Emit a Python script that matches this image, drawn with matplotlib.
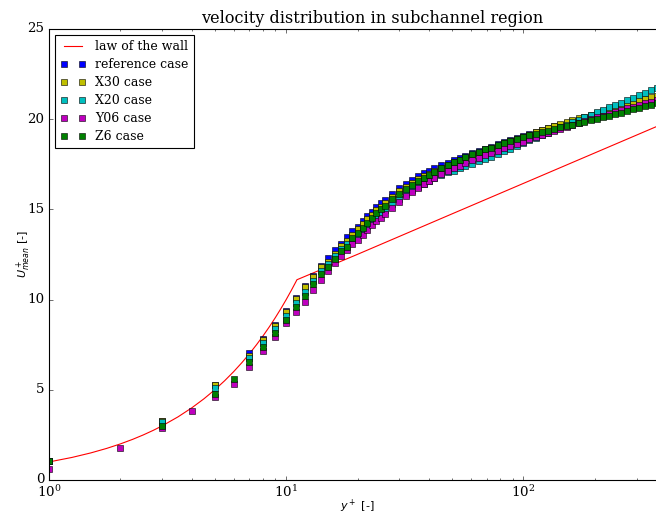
import numpy as np
import matplotlib
matplotlib.use("Agg")
import matplotlib.pyplot as plt

plt.style.use("classic")
plt.rcParams["font.family"] = "serif"
plt.rcParams["font.serif"] = ["DejaVu Serif"]
plt.rcParams["mathtext.fontset"] = "dejavusans"

nan = np.nan

# law of the wall
lw_yplus = [1, 1.25, 1.5, 1.75, 2, 2.25, 2.5, 2.75, 3, 3.5, 4, 4.5, 5, 5.5, 6, 6.5,
            7, 7.5, 8, 8.5, 9, 9.5, 10, 10.5, 11, 11.1, 20, 50, 100, 200, 400, 530]
lw_u = [1, 1.25, 1.5, 1.75, 2, 2.25, 2.5, 2.75, 3, 3.5, 4, 4.5, 5, 5.5, 6, 6.5,
        7, 7.5, 8, 8.5, 9, 9.5, 10, 10.5, 11, 11.1, 12.51, 14.75, 16.44, 18.13, 19.82, 20.5]

yplus = [1, 2, 3, 4, 5, 6, 7, 8, 9, 10, 11, 12, 13, 14, 15, 16, 17, 18, 19, 20,
         21, 22, 23, 24, 25, 26, 28, 30, 32, 34, 36, 38, 40, 42, 45, 48, 51, 54,
         57, 61, 65, 69, 73, 78, 83, 88, 94, 100, 106, 113, 120, 127, 135, 143,
         152, 161, 171, 181, 192, 204, 216, 229, 243, 258, 274, 290, 307, 325,
         345, 365]

u_ref = [1.07, nan, 3.25, nan, 5.27, nan, 7.02, 7.8, 8.6, 9.38, 10.08, 10.73, 11.29,
         11.84, 12.3, 12.75, 13.1, 13.45, 13.8, 14.04, 14.37, 14.63, 14.87, 15.12,
         15.34, 15.52, 15.87, 16.17, 16.43, 16.65, 16.84, 17.0, 17.14, 17.27, 17.44,
         17.59, 17.73, 17.86, 17.97, 18.12, 18.25, 18.37, 18.48, 18.61, 18.73, 18.84,
         18.96, 19.07, 19.18, 19.29, 19.39, 19.49, 19.6, 19.69, 19.79, 19.88, 19.98,
         20.07, 20.16, 20.25, 20.34, 20.42, 20.51, 20.6, 20.68, 20.76, 20.84, 20.92,
         21.0, 21.08]

u_x30 = [1.07, nan, 3.25, nan, 5.27, nan, 6.87, 7.76, 8.55, 9.33, 10.03, 10.68, 11.24,
         11.79, 12.08, 12.55, 12.99, 13.25, 13.6, 13.9, 14.2, 14.45, 14.7, 14.95,
         15.15, 15.35, 15.7, 16.0, 16.26, 16.48, 16.67, 16.83, 16.98, 17.11, 17.29,
         17.45, 17.6, 17.73, 17.85, 18.0, 18.14, 18.27, 18.39, 18.53, 18.66, 18.78,
         18.91, 19.03, 19.15, 19.27, 19.38, 19.49, 19.61, 19.72, 19.83, 19.93, 20.04,
         20.14, 20.24, 20.35, 20.45, 20.55, 20.65, 20.75, 20.85, 20.95, 21.04, 21.13,
         21.22, 21.3]

u_x20 = [1.07, nan, 3.2, nan, 5.12, nan, 6.74, 7.58, 8.35, 9.11, 9.81, 10.44, 11.05,
         11.6, 11.95, 12.4, 12.8, 13.1, 13.3, 13.6, 13.85, 14.1, 14.35, 14.55,
         14.75, 14.95, 15.3, 15.6, 15.85, 16.07, 16.26, 16.43, 16.58, 16.72, 16.9,
         17.06, 17.15, 17.27, 17.38, 17.52, 17.66, 17.8, 17.93, 18.08, 18.22, 18.36,
         18.52, 18.67, 18.83, 18.98, 19.12, 19.26, 19.4, 19.54, 19.68, 19.82, 19.96,
         20.1, 20.24, 20.38, 20.52, 20.65, 20.78, 20.92, 21.06, 21.19, 21.32, 21.46,
         21.6, 21.75]

u_y06 = [0.61, 1.75, 2.86, 3.82, 4.6, 5.32, 6.26, 7.13, 7.91, 8.68, 9.31, 9.87, 10.51,
         11.09, 11.6, 12.03, 12.4, 12.73, 13.08, 13.3, 13.58, 13.86, 14.12, 14.34,
         14.55, 14.75, 15.1, 15.43, 15.72, 15.98, 16.2, 16.4, 16.58, 16.74, 16.95,
         17.13, 17.29, 17.43, 17.56, 17.72, 17.86, 17.99, 18.11, 18.25, 18.38, 18.5,
         18.63, 18.76, 18.88, 19.0, 19.12, 19.23, 19.35, 19.46, 19.57, 19.68, 19.79,
         19.89, 19.99, 20.1, 20.2, 20.3, 20.4, 20.5, 20.6, 20.7, 20.79, 20.88,
         20.97, 21.05]

u_z6 = [1.07, nan, 3.0, nan, 4.75, 5.58, 6.56, 7.39, 8.13, 8.87, 9.57, 10.22, 10.86,
        11.4, 11.82, 12.27, 12.71, 12.93, 13.4, 13.67, 13.95, 14.23, 14.5, 14.78,
        15.0, 15.2, 15.55, 15.85, 16.12, 16.36, 16.57, 16.75, 16.92, 17.07, 17.27,
        17.45, 17.61, 17.76, 17.89, 18.05, 18.19, 18.32, 18.43, 18.56, 18.68, 18.79,
        18.9, 19.0, 19.1, 19.2, 19.29, 19.37, 19.46, 19.54, 19.62, 19.7, 19.78,
        19.86, 19.93, 20.02, 20.1, 20.19, 20.28, 20.37, 20.46, 20.55, 20.63, 20.72,
        20.8, 20.88]

fig = plt.figure(figsize=(8.2, 6.4375), dpi=80, facecolor="white")
# axes run past the right edge of the picture, as in the original crop
ax = fig.add_axes([0.0747, 0.068, 0.985, 0.8757])

ms = 5.2
ax.plot(lw_yplus, lw_u, "r-", label="law of the wall")
ax.plot(yplus, u_ref, "bs", ms=ms, label="reference case")
ax.plot(yplus, u_x30, "ys", ms=ms, label="X30 case")
ax.plot(yplus, u_x20, "cs", ms=ms, label="X20 case")
ax.plot(yplus, u_y06, "ms", ms=ms, label="Y06 case")
ax.plot(yplus, u_z6, "gs", ms=ms, label="Z6 case")

ax.set_xscale("log")
ax.set_xlim(1, 530)
ax.set_ylim(0, 25)
ax.set_title("velocity distribution in subchannel region", fontsize=14.5)
ax.set_xlabel("$y^+$ [-]", family="DejaVu Sans", fontsize=10)
ax.set_ylabel("$U^+_{mean}$ [-]", family="DejaVu Sans", fontsize=10)
ax.xaxis.set_label_coords(0.477, -0.04)
ax.yaxis.set_label_coords(-0.025, 0.5)
ax.tick_params(labelsize=12)

ax.legend(loc="upper left", numpoints=2, fontsize=11.3, labelspacing=0.4)

fig.savefig("out.png", dpi=80, facecolor="white")
